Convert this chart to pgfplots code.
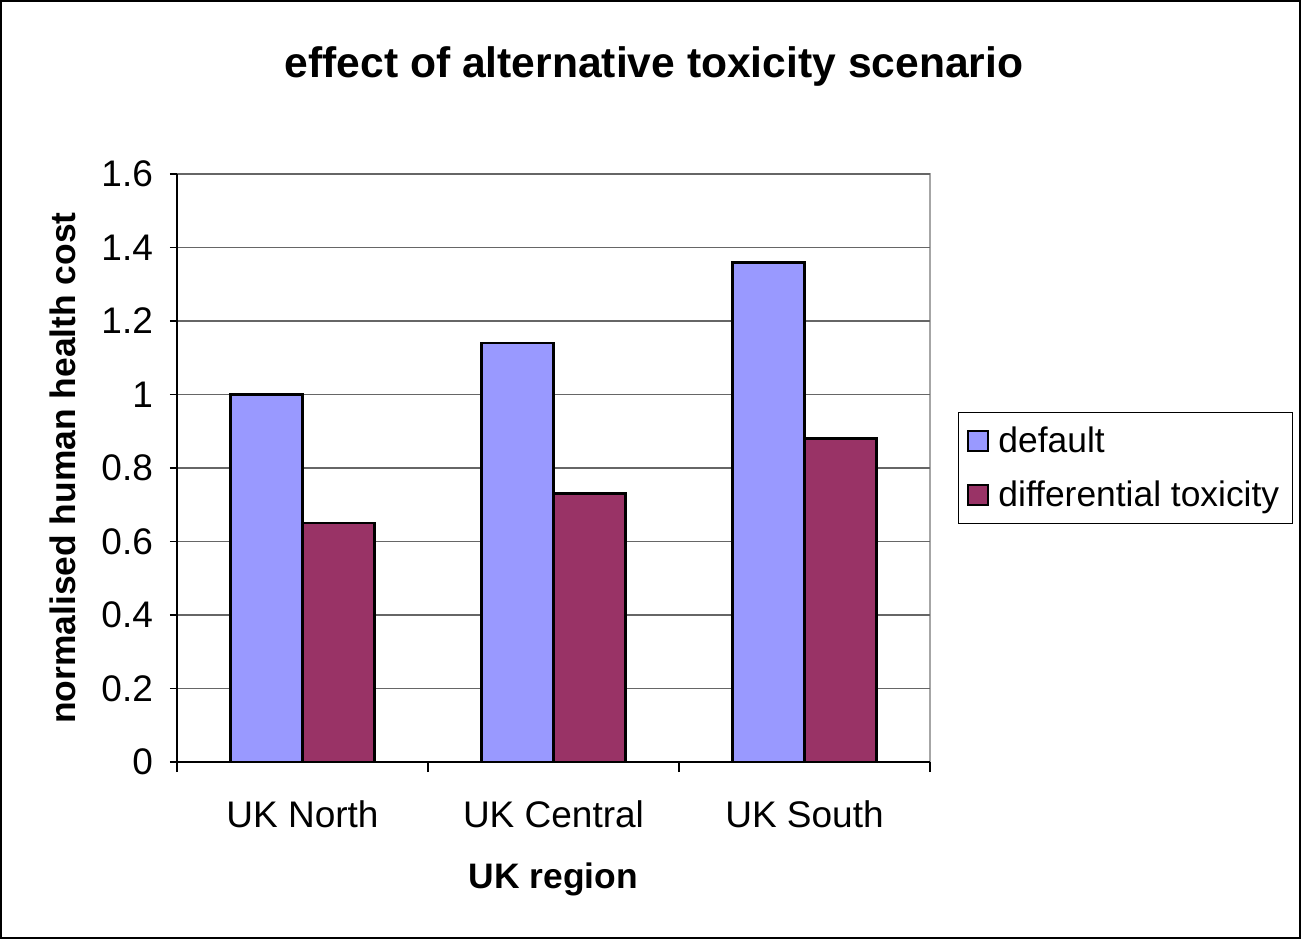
\documentclass[border=0pt]{standalone}
\usepackage{fontspec}
\setmainfont{Liberation Sans}
\usepackage{pgfplots}
\pgfplotsset{compat=1.18}
\definecolor{defaultblue}{HTML}{9999FF}
\definecolor{difftox}{HTML}{993366}

\pgfplotstableread{
x  default difftox
0  1.00    0.65
1  1.14    0.73
2  1.36    0.88
}\healthcost

\begin{document}
\begin{tikzpicture}
\useasboundingbox (0,0) rectangle (650.5pt,469.5pt);
\draw[black, line width=1.2pt] (0.6pt,0.6pt) rectangle (649.9pt,468.9pt);
\node[font=\fontsize{21.3}{25}\selectfont\bfseries] at (327pt,436.5pt) {effect of alternative toxicity scenario};
\begin{axis}[
  at={(88.5pt,88.5pt)}, anchor=south west,
  scale only axis, width=376.5pt, height=294pt,
  ybar=0pt, bar width=36pt,
  xmin=-0.5, xmax=2.5, ymin=0, ymax=1.6,
  xtick={0,1,2},
  xticklabels={UK North, UK Central, UK South},
  minor xtick={-0.5,0.5,1.5,2.5},
  major x tick style={draw=none},
  minor x tick style={black, line width=0.8pt},
  minor tick length=5pt,
  ytick={0,0.2,...,1.6},
  y tick style={black, line width=0.8pt},
  major tick length=3.5pt,
  tick align=outside,
  ymajorgrids, major grid style={gray!80!black, line width=0.9pt},
  axis x line*=bottom, axis y line*=left,
  axis line style={black, line width=1pt, -},
  axis background/.style={draw=gray!70, line width=1.2pt},
  /pgf/number format/assume math mode=true,
  tick label style={font=\fontsize{18.5}{22}\selectfont},
  xticklabel style={yshift=-12.5pt},
  yticklabel style={xshift=-5pt},
  ylabel={normalised human health cost},
  xlabel={UK region},
  label style={font=\fontsize{17.7}{21}\selectfont\bfseries},
  ylabel style={at={(axis description cs:-0.152,0.5)}, anchor=center},
  xlabel style={at={(axis description cs:0.5,-0.2)}, anchor=center},
  legend style={at={(1.037,0.5)}, anchor=west, draw=black, line width=0.6pt,
    font=\fontsize{17.7}{21}\selectfont, row sep=9pt, inner xsep=4.5pt, inner ysep=5pt,
    nodes={inner sep=2pt}},
  legend cell align=left,
  legend image code/.code={%
    \path[draw=none, fill=none] (0pt,0pt) -- (13pt,0pt);
    \draw[#1, draw=black, line width=1pt] (0pt,-5pt) rectangle (10pt,5pt);},
]
\addplot[fill=defaultblue, draw=black, line width=1.3pt, bar shift=-18pt] table[x=x, y=default] {\healthcost};
\addplot[fill=difftox, draw=black, line width=1.3pt, bar shift=18pt] table[x=x, y=difftox] {\healthcost};
\legend{default, differential toxicity}
\end{axis}
\end{tikzpicture}
\end{document}
